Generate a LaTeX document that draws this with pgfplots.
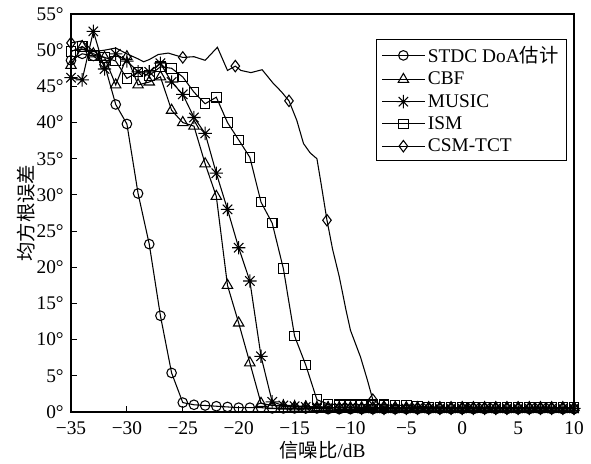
\documentclass[border=0pt]{standalone}
\usepackage{fontspec}
\setmainfont{Liberation Serif}
\newfontfamily\cjk{Noto Sans CJK SC}
\usepackage{pgfplots}
\pgfplotsset{compat=1.18}
\usetikzlibrary{plotmarks}
\pgfdeclareplotmark{ast8}{%
  \pgfpathmoveto{\pgfqpoint{0pt}{\pgfplotmarksize}}\pgfpathlineto{\pgfqpoint{0pt}{-\pgfplotmarksize}}%
  \pgfpathmoveto{\pgfqpoint{\pgfplotmarksize}{0pt}}\pgfpathlineto{\pgfqpoint{-\pgfplotmarksize}{0pt}}%
  \pgfpathmoveto{\pgfqpoint{0.707\pgfplotmarksize}{0.707\pgfplotmarksize}}\pgfpathlineto{\pgfqpoint{-0.707\pgfplotmarksize}{-0.707\pgfplotmarksize}}%
  \pgfpathmoveto{\pgfqpoint{-0.707\pgfplotmarksize}{0.707\pgfplotmarksize}}\pgfpathlineto{\pgfqpoint{0.707\pgfplotmarksize}{-0.707\pgfplotmarksize}}%
  \pgfusepathqstroke}
\begin{document}
\begin{tikzpicture}
\begin{axis}[
  name=ax,
  scale only axis,
  width=377.25pt, height=298.5pt,
  xmin=-35, xmax=10, ymin=0, ymax=55,
  xtick={-35,-30,...,10},
  xticklabels={−35,−30,−25,−20,−15,−10,−5,0,5,10},
  ytick={0,5,...,55},
  yticklabels={0°,5°,10°,15°,20°,25°,30°,35°,40°,45°,50°,55°},
  xtick pos=left, ytick pos=left,
  tick align=inside,
  major tick length=4.5pt,
  axis line style={line width=1.3pt},
  tick style={line width=0.8pt, black},
  tick label style={font=\fontsize{14.5}{16}\selectfont, inner sep=1pt},
  xticklabel style={yshift=-6pt},
  yticklabel style={xshift=-4.3pt},
  xlabel={{\cjk 信噪比}/dB},
  ylabel={\cjk 均方根误差},
  xlabel style={at={(axis description cs:0.5,-0.097)}, anchor=center, font=\fontsize{14.5}{16}\selectfont},
  ylabel style={at={(axis description cs:-0.0895,0.5)}, anchor=center, rotate=0, font=\fontsize{14.5}{16}\selectfont},
  legend style={at={(0.986,0.937)}, anchor=north east, draw=black, line width=0.8pt,
     font=\fontsize{14.5}{16}\selectfont, row sep=1.6pt, inner xsep=4pt, inner ysep=3pt},
  legend cell align=left,
  legend image code/.code={\draw[mark repeat=2,mark phase=2] plot coordinates {(0pt,0pt) (16pt,0pt) (32pt,0pt)};},
  every axis plot/.append style={black, line width=0.8pt, mark options={solid, line width=0.8pt}},
  clip=false,
]
% STDC DoA
\addplot[mark=o, mark size=3.6pt] coordinates {
(-35,48.6)(-34,49.5)(-33,49.2)(-32,48.0)(-31,42.5)(-30,39.8)(-29,30.2)(-28,23.2)(-27,13.3)(-26,5.4)
(-25,1.3)(-24,1.0)(-23,0.9)(-22,0.8)(-21,0.7)(-20,0.6)(-19,0.6)(-18,0.6)(-17,0.5)(-16,0.5)
(-15,0.5)(-14,0.5)(-13,0.5)(-12,0.4)(-11,0.4)(-10,0.4)(-9,0.4)(-8,0.4)(-7,0.4)(-6,0.4)
(-5,0.4)(-4,0.4)(-3,0.4)(-2,0.4)(-1,0.4)(0,0.4)(1,0.4)(2,0.4)(3,0.4)(4,0.4)
(5,0.4)(6,0.4)(7,0.4)(8,0.4)(9,0.4)(10,0.4)};
\addlegendentry{STDC DoA{\cjk 估计}}
% CBF
\addplot[mark=triangle, mark size=4.5pt] coordinates {
(-35,47.9)(-34,50.5)(-33,49.5)(-32,49.0)(-31,45.2)(-30,49.1)(-29,45.2)(-28,45.6)(-27,46.3)(-26,41.7)
(-25,40.0)(-24,39.5)(-23,34.3)(-22,29.8)(-21,17.5)(-20,12.3)(-19,6.8)(-18,1.2)(-17,0.9)(-16,0.8)
(-15,0.7)(-14,0.7)(-13,0.6)(-12,0.6)(-11,0.6)(-10,0.6)(-9,0.6)(-8,0.6)(-7,0.6)(-6,0.6)
(-5,0.6)(-4,0.6)(-3,0.6)(-2,0.6)(-1,0.6)(0,0.6)(1,0.6)(2,0.6)(3,0.6)(4,0.6)
(5,0.6)(6,0.6)(7,0.6)(8,0.6)(9,0.6)(10,0.6)};
\addlegendentry{CBF}
% MUSIC
\addplot[mark=ast8, mark size=5pt] coordinates {
(-35,46.2)(-34,45.9)(-33,52.6)(-32,47.4)(-31,49.5)(-30,48.5)(-29,47.0)(-28,47.0)(-27,48.2)(-26,45.6)
(-25,43.9)(-24,40.7)(-23,38.5)(-22,33.0)(-21,28.0)(-20,22.7)(-19,18.1)(-18,7.7)(-17,1.4)(-16,0.9)
(-15,0.8)(-14,0.7)(-13,0.7)(-12,0.6)(-11,0.6)(-10,0.6)(-9,0.5)(-8,0.5)(-7,0.5)(-6,0.5)
(-5,0.5)(-4,0.5)(-3,0.5)(-2,0.5)(-1,0.5)(0,0.5)(1,0.5)(2,0.5)(3,0.5)(4,0.5)
(5,0.5)(6,0.5)(7,0.5)(8,0.5)(9,0.5)(10,0.5)};
\addlegendentry{MUSIC}
% ISM
\addplot[mark=square, mark size=3.6pt] coordinates {
(-35,49.8)(-34,50.5)(-33,49.3)(-32,49.0)(-31,48.5)(-30,46.1)(-29,47.0)(-28,46.5)(-27,47.7)(-26,47.5)
(-25,46.3)(-24,44.2)(-23,42.6)(-22,43.5)(-21,40.0)(-20,37.6)(-19,35.2)(-18,29.0)(-17,26.1)(-16,19.8)
(-15,10.5)(-14,6.5)(-13,1.7)(-12,1.1)(-11,1.0)(-10,1.0)(-9,1.0)(-8,1.0)(-7,1.0)(-6,0.9)
(-5,0.9)(-4,0.8)(-3,0.7)(-2,0.7)(-1,0.6)(0,0.6)(1,0.6)(2,0.6)(3,0.6)(4,0.6)
(5,0.6)(6,0.6)(7,0.6)(8,0.6)(9,0.6)(10,0.6)};
\addlegendentry{ISM}
% CSM-TCT line
\addplot[forget plot] coordinates {
(-35,51.0)(-34,51.3)(-33,49.8)(-32,50.0)(-31,50.3)(-30,49.5)(-29,48.8)(-28.5,48.4)(-28,48.7)(-27.2,49.4)
(-26.3,49.6)(-25,49.0)(-24,49.1)(-23,48.6)(-21.9,50.4)(-21,47.2)(-20.3,47.8)(-19.8,47.2)(-18.9,46.9)(-17.9,47.3)
(-16.9,45.4)(-16.2,44.3)(-15.5,43.0)(-14.8,40.3)(-14.2,37.1)(-13.6,35.8)(-13.0,35.0)(-12.6,31.3)(-12.1,26.5)(-11.6,22.5)
(-11.0,18.7)(-10.4,14.1)(-10,11.3)(-9.1,7.6)(-8.5,4.5)(-8,1.7)(-7,0.7)(-6,0.6)(-5,0.5)(-4,0.5)
(-3,0.5)(-2,0.5)(-1,0.5)(0,0.5)(1,0.5)(2,0.5)(3,0.5)(4,0.5)(5,0.5)(6,0.5)(7,0.5)(8,0.5)(9,0.5)(10,0.5)};
% CSM-TCT marks
\addplot[only marks, mark=diamond, mark size=4.3pt, forget plot] coordinates {
(-35,51.0)(-25,49.0)(-20.3,47.8)(-15.5,43.0)(-12.1,26.5)(-8,1.7)(-7,0.7)(-6,0.6)(-5,0.5)(-4,0.5)
(-3,0.5)(-2,0.5)(-1,0.5)(0,0.5)(1,0.5)(2,0.5)(3,0.5)(4,0.5)(5,0.5)(6,0.5)(7,0.5)(8,0.5)(9,0.5)(10,0.5)};
\addlegendimage{black, line width=0.8pt, mark=diamond, mark size=4.3pt, mark options={solid}}
\addlegendentry{CSM-TCT}
\end{axis}
\path ([xshift=-53.25pt,yshift=-37.5pt]ax.south west) rectangle ([xshift=12.75pt,yshift=10.5pt]ax.north east);
\end{tikzpicture}
\end{document}
